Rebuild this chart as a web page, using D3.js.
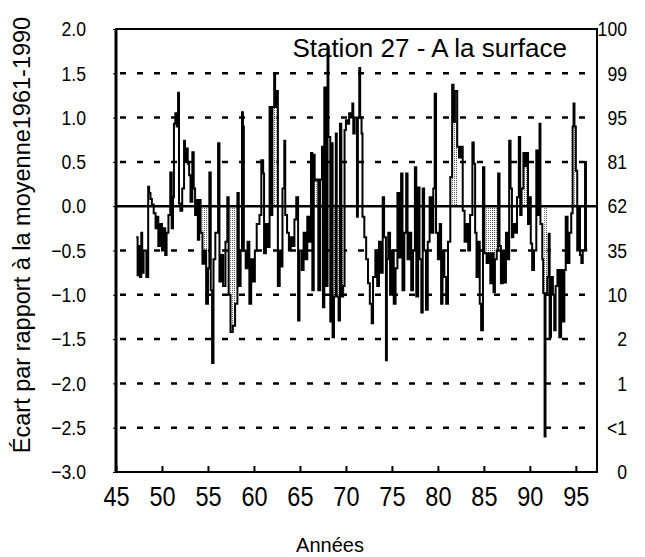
<!DOCTYPE html>
<html>
<head>
<meta charset="utf-8">
<script src="https://cdn.jsdelivr.net/npm/d3@7"></script>
<style>
  body { margin: 0; background: #fff; }
  svg { display: block; }
</style>
</head>
<body>
<div id="chart"></div>
<script>
// size of the picture
const width = 645;
const height = 557;

// anomaly series, [year, value] (step values)
const obs = [
  [1947.2,-0.35],[1947.35,-0.78],[1947.5,-0.45],[1947.6,-0.8],[1947.75,-0.3],[1947.85,-0.75],[1948.0,-0.5],[1948.3,-0.8],
  [1948.5,0.22],[1948.6,0.15],[1948.75,0.08],[1948.9,0.02],[1949.1,-0.08],[1949.3,-0.25],[1949.5,-0.12],[1949.6,-0.45],[1949.8,-0.2],
  [1950.0,-0.5],[1950.2,-0.25],[1950.35,-0.55],[1950.5,-0.3],[1950.7,-0.1],[1950.9,0.38],[1951.05,-0.25],[1951.2,0.1],[1951.3,0.93],[1951.45,1.05],[1951.6,0.9],[1951.75,1.28],[1951.85,0.03],
  [1952.0,-0.05],[1952.2,0.2],[1952.4,0.74],[1952.5,0.5],[1952.65,0.65],[1952.8,0.48],[1952.95,0.35],[1953.1,0.05],[1953.3,0.61],[1953.45,0.2],[1953.6,-0.1],[1953.75,0.07],[1953.9,-0.38],
  [1954.05,0.07],[1954.2,-0.3],[1954.4,-0.65],[1954.6,-0.5],[1954.8,-1.1],[1955.0,-0.7],[1955.15,0.38],[1955.3,-0.95],[1955.45,-1.77],[1955.6,-0.6],[1955.8,-0.3],
  [1956.1,0.71],[1956.25,-0.85],[1956.45,-0.55],[1956.65,-0.9],[1956.9,-0.4],[1957.1,0.1],[1957.25,-1.0],[1957.45,-1.42],[1957.7,-1.35],[1957.95,-1.1],
  [1958.2,0.15],[1958.35,-0.9],[1958.55,-0.5],[1958.7,1.06],[1958.8,0.9],[1958.9,-0.5],[1959.1,-0.7],[1959.3,-0.4],[1959.5,-1.1],[1959.7,-0.6],[1959.9,-0.85],
  [1960.1,-0.5],[1960.3,-0.2],[1960.6,-0.1],[1960.8,0.52],[1961.0,0.37],[1961.1,-0.53],[1961.3,-0.2],[1961.5,-0.46],[1961.7,1.12],[1961.85,-0.1],
  [1962.0,1.12],[1962.2,1.48],[1962.3,1.12],[1962.45,1.3],[1962.6,-0.9],[1962.8,-0.5],[1962.95,-0.68],[1963.1,0.2],[1963.3,0.74],[1963.4,-0.1],[1963.6,-0.3],[1963.8,-0.5],
  [1964.0,-0.35],[1964.2,-0.45],[1964.4,-0.15],[1964.6,0.1],[1964.8,-1.29],[1964.95,-0.5],[1965.2,-0.72],[1965.4,-0.3],[1965.6,-0.6],[1965.8,-0.12],
  [1966.0,-0.4],[1966.2,0.6],[1966.35,-0.95],[1966.5,0.58],[1966.6,0.29],[1966.8,0.3],[1967.0,-0.95],[1967.2,0.3],[1967.4,0.67],[1967.5,-1.14],[1967.65,1.34],[1967.8,-0.9],
  [1968.0,1.8],[1968.1,0.78],[1968.3,-1.3],[1968.45,0.71],[1968.55,-1.48],[1968.7,-1.02],[1968.9,0.82],[1969.0,-1.02],[1969.2,-1.29],[1969.35,0.93],[1969.5,-1.02],[1969.7,-0.9],[1969.85,0.86],
  [1970.0,0.97],[1970.2,0.93],[1970.35,1.05],[1970.5,1.0],[1970.7,1.16],[1970.8,0.82],[1970.95,1.0],[1971.2,-0.12],[1971.3,1.0],[1971.45,1.56],[1971.55,1.0],[1971.7,0.82],[1971.8,-0.12],
  [1972.0,-0.35],[1972.2,-0.6],[1972.4,-0.87],[1972.6,-1.1],[1972.8,-1.32],[1972.95,-0.8],[1973.2,-0.5],[1973.4,-0.9],[1973.6,-0.4],[1973.8,-0.75],
  [1974.0,0.1],[1974.15,-0.35],[1974.35,-1.74],[1974.45,-0.6],[1974.6,-0.3],[1974.8,-1.0],[1975.0,-0.5],[1975.2,-1.1],[1975.4,-0.7],[1975.6,0.15],[1975.8,-0.58],
  [1976.0,0.37],[1976.15,-0.95],[1976.35,-0.3],[1976.55,0.37],[1976.7,-0.6],[1976.9,-0.3],[1977.1,-0.95],[1977.3,-0.5],[1977.5,0.44],[1977.65,-1.02],[1977.85,0.21],
  [1978.0,-0.6],[1978.2,-1.2],[1978.35,0.2],[1978.5,-0.5],[1978.7,-1.17],[1978.9,-0.4],[1979.1,0.1],[1979.3,-0.3],[1979.5,0.2],[1979.65,1.27],[1979.8,-0.3],
  [1980.0,-0.6],[1980.2,-0.2],[1980.35,-1.1],[1980.5,-0.5],[1980.7,-0.8],[1980.9,-1.1],[1981.1,-0.4],[1981.35,0.33],[1981.55,1.37],[1981.7,0.95],[1981.85,1.3],
  [1982.1,0.67],[1982.3,0.55],[1982.5,0.67],[1982.7,-0.05],[1982.9,-0.4],[1983.1,-0.2],[1983.3,-0.5],[1983.5,-0.1],[1983.75,0.72],[1983.9,0.48],
  [1984.05,-0.3],[1984.2,-0.8],[1984.4,-0.4],[1984.55,-1.1],[1984.7,-1.4],[1984.9,0.44],[1985.05,-0.53],[1985.3,-0.64],[1985.5,-0.53],[1985.7,-0.87],[1985.85,-0.53],
  [1986.05,-0.97],[1986.2,-0.6],[1986.4,-0.5],[1986.55,0.37],[1986.7,-0.45],[1986.85,-0.87],[1987.05,-0.5],[1987.2,-0.86],[1987.4,-0.3],[1987.6,-0.6],[1987.75,0.74],[1987.9,0.2],
  [1988.05,-0.35],[1988.2,-0.2],[1988.4,-0.3],[1988.6,0.1],[1988.8,0.78],[1988.95,-0.1],[1989.1,0.2],[1989.3,0.6],[1989.45,0.45],[1989.6,0.6],[1989.8,-0.2],[1989.95,0.1],
  [1990.1,-0.42],[1990.25,-0.72],[1990.45,-0.5],[1990.7,0.63],[1990.85,-0.1],[1991.05,0.93],[1991.15,-0.2],[1991.35,-0.6],[1991.45,-0.98],[1991.6,-2.6],[1991.7,-0.98],[1991.9,-0.8],
  [1992.05,-0.31],[1992.15,-1.48],[1992.3,-0.8],[1992.5,-1.0],[1992.65,-1.4],[1992.8,-0.9],[1993.0,-0.72],[1993.2,-1.48],[1993.4,-0.72],[1993.6,-1.3],[1993.75,-0.72],[1993.9,-0.12],
  [1994.1,-0.64],[1994.3,-0.3],[1994.5,-0.08],[1994.65,0.9],[1994.75,1.16],[1994.85,0.9],[1995.0,0.4],[1995.15,-0.5],[1995.3,0.0],[1995.45,-0.55],[1995.6,-0.64],[1995.75,-0.5],
  [1996.0,0.5],[1996.1,-0.5],[1996.25,-0.5]
];

// periods drawn with the dotted fill
const shaded = [
  [1954.4, 1955.0], [1957.25, 1957.95], [1962.0, 1962.45], [1966.6, 1967.0],
  [1968.7, 1969.85], [1981.55, 1982.1], [1985.05, 1986.4], [1989.3, 1989.8],
  [1991.45, 1991.9], [1994.65, 1995.0]
];

// axes
const yTicks = [2, 1.5, 1, 0.5, 0, -0.5, -1, -1.5, -2, -2.5, -3];
const rightLabels = ["100", "99", "95", "81", "62", "35", "10", "2", "1", "<1", "0"];
const xTicks = [1945, 1950, 1955, 1960, 1965, 1970, 1975, 1980, 1985, 1990, 1995];

const titleText = "Station 27 - A la surface";
const yTitle = "Écart par rapport à la moyenne1961-1990";
const xTitle = "Années";

const font = "Liberation Sans, Arial, sans-serif";
const squeeze = 0.84; // tick labels are narrow in the original

const svg = d3.select("#chart")
    .append("svg")
    .attr("width", width)
    .attr("height", height);

const x = d3.scaleLinear().domain([1945, 1997.3]).range([116, 597]);
const y = d3.scaleLinear().domain([-3, 2]).range([472, 29]);

// dotted fill
const pat = svg.append("defs").append("pattern")
    .attr("id", "dots")
    .attr("width", 2).attr("height", 2)
    .attr("patternUnits", "userSpaceOnUse");
pat.append("rect").attr("width", 2).attr("height", 2).attr("fill", "#fff");
pat.append("rect").attr("width", 1).attr("height", 1).attr("fill", "#444");

// dashed grid
svg.append("g")
    .selectAll("line")
    .data(yTicks.filter(d => d != 0 && d != 2 && d != -3))
    .enter()
    .append("line")
    .attr("x1", x.range()[0] + 4)
    .attr("x2", x.range()[1])
    .attr("y1", d => y(d))
    .attr("y2", d => y(d))
    .attr("stroke", "#000")
    .attr("stroke-width", 2.5)
    .attr("stroke-dasharray", "6,11");

// dotted bars for the shaded periods
const inShade = t => shaded.some(s => t >= s[0] && t < s[1]);
const bars = [];
obs.forEach((d, i) => {
    if (i < obs.length - 1 && inShade(d[0])) bars.push([d[0], obs[i + 1][0], d[1]]);
});
svg.append("g")
    .selectAll("rect")
    .data(bars)
    .enter()
    .append("rect")
    .attr("x", d => x(d[0]))
    .attr("width", d => x(d[1]) - x(d[0]))
    .attr("y", d => Math.min(y(0), y(d[2])))
    .attr("height", d => Math.abs(y(d[2]) - y(0)))
    .attr("fill", "url(#dots)");

// zero line
svg.append("line")
    .attr("x1", x.range()[0]).attr("x2", x.range()[1])
    .attr("y1", y(0)).attr("y2", y(0))
    .attr("stroke", "#000")
    .attr("stroke-width", 2.5);

// the series
const line = d3.line()
    .x(d => x(d[0]))
    .y(d => y(d[1]))
    .curve(d3.curveStepAfter);

svg.append("path")
    .datum(obs)
    .attr("d", line)
    .attr("fill", "none")
    .attr("stroke", "#000")
    .attr("stroke-width", 2);

// frame
svg.append("rect")
    .attr("x", x.range()[0]).attr("y", y.range()[1])
    .attr("width", x.range()[1] - x.range()[0])
    .attr("height", y.range()[0] - y.range()[1])
    .attr("fill", "none")
    .attr("stroke", "#000")
    .attr("stroke-width", 2);
svg.append("line")
    .attr("x1", x.range()[0]).attr("x2", x.range()[0])
    .attr("y1", y.range()[1]).attr("y2", y.range()[0])
    .attr("stroke", "#000")
    .attr("stroke-width", 3);

// narrow the tick label glyphs
function narrow(sel, size) {
    sel.attr("font-family", font)
        .attr("font-size", size)
        .attr("fill", "#000")
        .each(function () {
            const t = d3.select(this);
            const x0 = +t.attr("x") || 0;
            t.attr("x", x0 / squeeze).attr("transform", `scale(${squeeze},1)`);
        });
}

// x axis: small ticks inside, labels below
const xAxis = svg.append("g")
    .attr("transform", `translate(0,${y(-3)})`)
    .call(d3.axisBottom(x)
        .tickValues(xTicks)
        .tickSize(-6)
        .tickPadding(14)
        .tickFormat(d => String(d).slice(2)));
xAxis.select(".domain").remove();
xAxis.selectAll("line").attr("stroke-width", 2);
narrow(xAxis.selectAll("text"), 28);

// left axis labels
const yAxis = svg.append("g")
    .attr("transform", `translate(${x.range()[0]},0)`)
    .call(d3.axisLeft(y)
        .tickValues(yTicks)
        .tickSize(3)
        .tickPadding(27)
        .tickFormat(d3.format(".1f")));
yAxis.select(".domain").remove();
narrow(yAxis.selectAll("text"), 21);

// right axis labels
const rAxis = svg.append("g")
    .attr("transform", `translate(${x.range()[1]},0)`)
    .call(d3.axisRight(y)
        .tickValues(yTicks)
        .tickSize(0)
        .tickFormat((d, i) => rightLabels[i]));
rAxis.select(".domain").remove();
rAxis.selectAll("text")
    .attr("text-anchor", "end")
    .attr("x", 30);
narrow(rAxis.selectAll("text"), 21);

// titles
svg.append("text")
    .attr("x", 567)
    .attr("y", 57)
    .attr("text-anchor", "end")
    .attr("font-family", font)
    .attr("font-size", 26)
    .text(titleText);

svg.append("text")
    .attr("transform", `translate(30,235) rotate(-90)`)
    .attr("text-anchor", "middle")
    .attr("font-family", font)
    .attr("font-size", 23.5)
    .text(yTitle);

svg.append("text")
    .attr("x", 330)
    .attr("y", 552)
    .attr("text-anchor", "middle")
    .attr("font-family", font)
    .attr("font-size", 20)
    .text(xTitle);
</script>
</body>
</html>
